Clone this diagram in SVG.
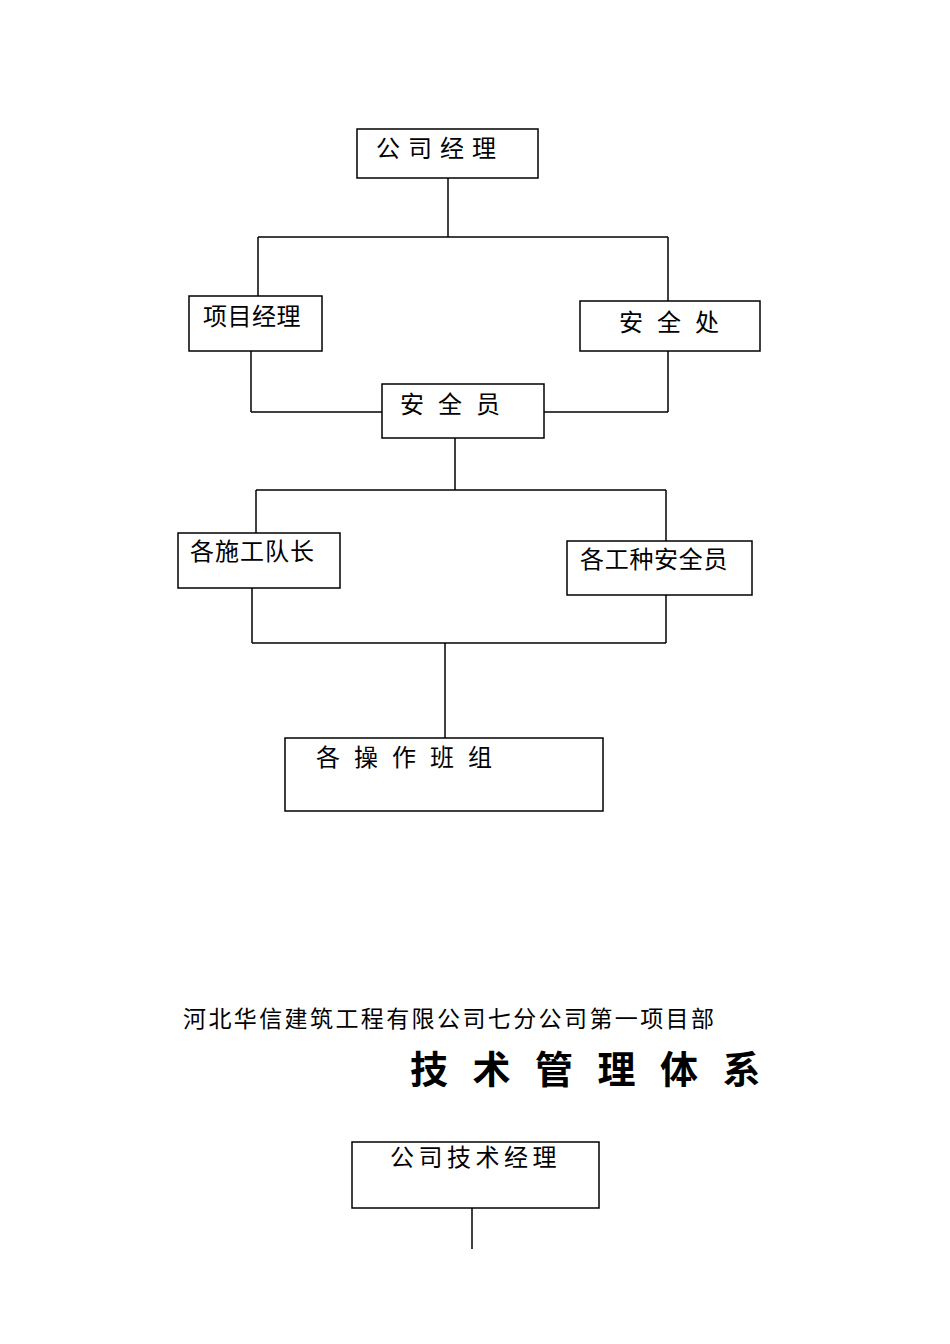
<svg xmlns="http://www.w3.org/2000/svg" width="950" height="1344" viewBox="0 0 950 1344">
<style>
rect{fill:#fff;stroke:#000;stroke-width:1.5}
line{stroke:#000;stroke-width:1.5}
text{font-family:"Noto Sans CJK SC","Noto Sans CJK JP",sans-serif;font-size:24px;fill:#000}
</style>
<rect x="0" y="0" width="950" height="1344" style="stroke:none"/>
<g id="connectors">
<line x1="448" y1="178" x2="448" y2="237"/>
<line x1="258" y1="237" x2="668" y2="237"/>
<line x1="258" y1="237" x2="258" y2="296"/>
<line x1="668" y1="237" x2="668" y2="301"/>
<line x1="251" y1="351" x2="251" y2="412"/>
<line x1="251" y1="412" x2="382" y2="412"/>
<line x1="668" y1="351" x2="668" y2="412"/>
<line x1="544" y1="412" x2="668" y2="412"/>
<line x1="455" y1="438" x2="455" y2="490"/>
<line x1="256" y1="490" x2="666" y2="490"/>
<line x1="256" y1="490" x2="256" y2="533"/>
<line x1="666" y1="490" x2="666" y2="541"/>
<line x1="252" y1="588" x2="252" y2="643"/>
<line x1="666" y1="595" x2="666" y2="643"/>
<line x1="252" y1="643" x2="666" y2="643"/>
<line x1="445" y1="643" x2="445" y2="738"/>
<line x1="472" y1="1208" x2="472" y2="1249"/>
</g>
<g id="n1"><rect x="357" y="129" width="181" height="49"/><text x="376" y="157" letter-spacing="8">公司经理</text></g>
<g id="n2"><rect x="189" y="296" width="133" height="55"/><text x="203" y="325" letter-spacing="0.5">项目经理</text></g>
<g id="n3"><rect x="580" y="301" width="180" height="50"/><text x="619" y="331" letter-spacing="14">安全处</text></g>
<g id="n4"><rect x="382" y="384" width="162" height="54"/><text x="400" y="413" letter-spacing="14">安全员</text></g>
<g id="n5"><rect x="178" y="533" width="162" height="55"/><text x="190" y="560" letter-spacing="1">各施工队长</text></g>
<g id="n6"><rect x="567" y="541" width="185" height="54"/><text x="580" y="568" letter-spacing="0.7">各工种安全员</text></g>
<g id="n7"><rect x="285" y="738" width="318" height="73"/><text x="316" y="766" letter-spacing="14">各操作班组</text></g>
<text x="183" y="1027" style="font-size:23px" letter-spacing="2.4">河北华信建筑工程有限公司七分公司第一项目部</text>
<text x="410" y="1083" style="font-size:38px;font-weight:bold" letter-spacing="24.5">技术管理体系</text>
<g id="n8"><rect x="352" y="1142" width="247" height="66"/><text x="390" y="1166" letter-spacing="4.5">公司技术经理</text></g>
</svg>
